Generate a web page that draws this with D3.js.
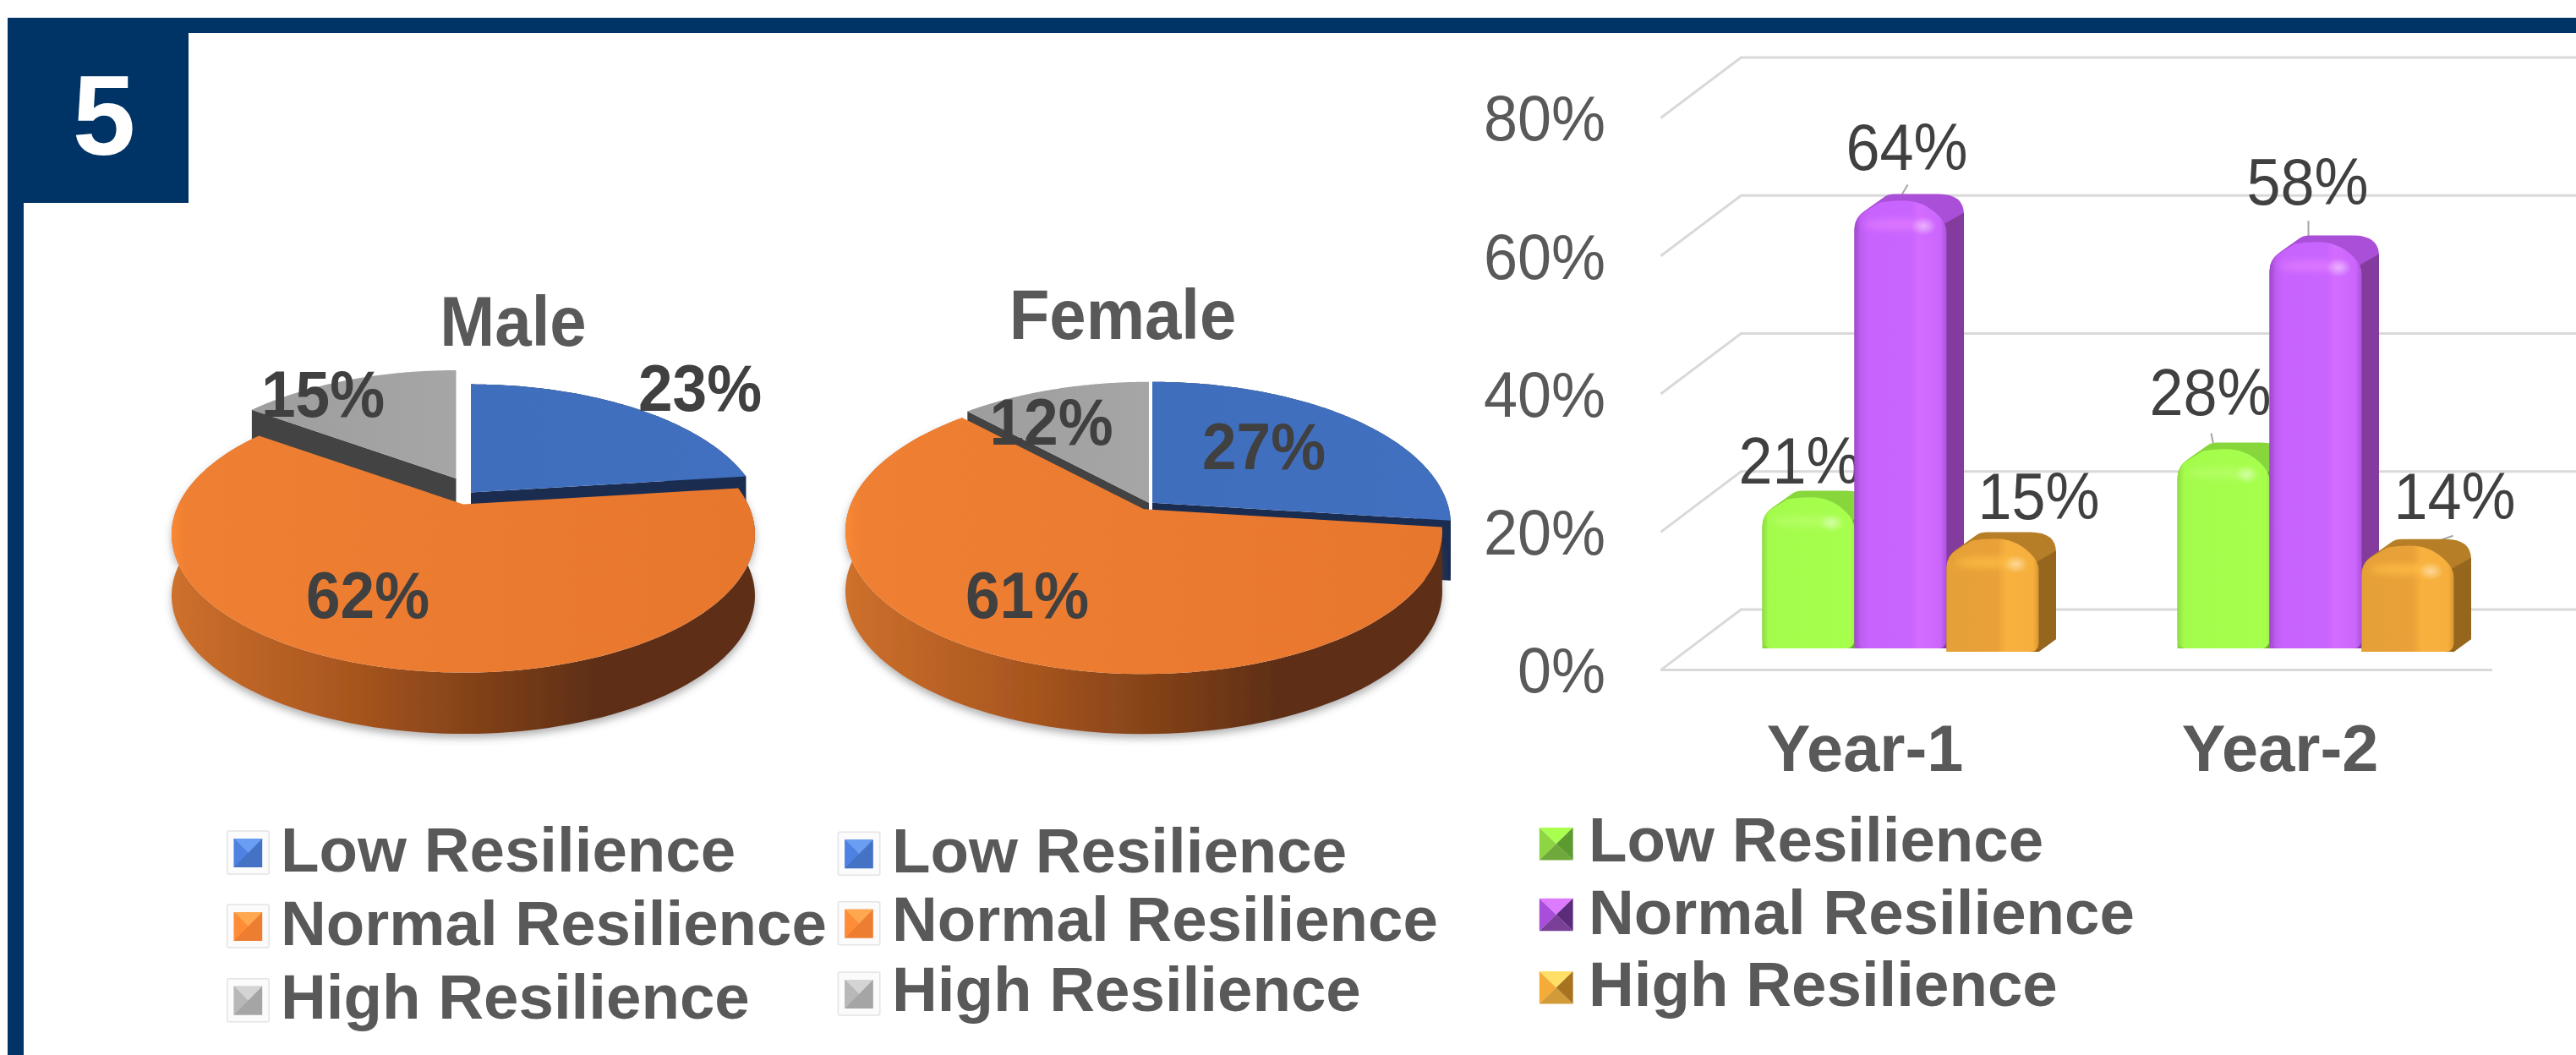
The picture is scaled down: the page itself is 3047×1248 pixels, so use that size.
<!DOCTYPE html>
<html><head><meta charset="utf-8">
<script src="https://cdn.jsdelivr.net/npm/d3@7/dist/d3.min.js"></script>
<style>html,body{margin:0;padding:0;background:#fff}svg{display:block}text{font-family:"Liberation Sans",Arial,sans-serif}</style>
</head><body><svg id="c" width="3047" height="1248"></svg>
<script>
// ---- data ----
const pieCategories = ["Low Resilience", "Normal Resilience", "High Resilience"];
const maleValues = [23, 62, 15];
const femaleValues = [27, 61, 12];
const years = ["Year-1", "Year-2"];
const lowValues = [21, 28];
const normalValues = [64, 58];
const highValues = [15, 14];
const yTicks = [0, 20, 40, 60, 80];

// ---- layout ----
const svg = d3.select("#c");
const defs = svg.append("defs");
const NAVY = "#003466", DARK = "#404040", MID = "#595959";

function lg(id, stops, x2 = 1, y2 = 0) {
  const g = defs.append("linearGradient").attr("id", id).attr("x1", 0).attr("y1", 0).attr("x2", x2).attr("y2", y2);
  stops.forEach(s => g.append("stop").attr("offset", s[0]).attr("stop-color", s[1]));
}
lg("wallO", [[0, "#cd702c"], [.3, "#a9561f"], [.72, "#5f2f12"], [1, "#5f2f12"]]);
lg("topO", [[0, "#f98835"], [.025, "#ef7f32"], [.5, "#eb7b30"], [1, "#e8772e"]]);
lg("topB", [[0, "#3f6ebd"], [1, "#4270c0"]]);
lg("topG", [[0, "#9d9d9d"], [1, "#a6a6a6"]]);
lg("fP", [[0, "#9c48cb"], [.07, "#bf5ef2"], [.15, "#c863fd"], [.62, "#c965ff"], [.7, "#d36cff"], [.93, "#cb66fd"], [1, "#ab52da"]]);
lg("fG", [[0, "#8fdb42"], [.07, "#a3fb4b"], [.95, "#a7ff4d"], [1, "#a0f548"]]);
lg("fH", [[0, "#e5a038"], [.55, "#e9a138"], [.65, "#f8b13e"], [.94, "#f6af3d"], [1, "#d9952f"]]);
const soft = defs.append("filter").attr("id", "soft").attr("x", "-10%").attr("y", "-10%").attr("width", "120%").attr("height", "130%");
soft.append("feDropShadow").attr("dx", 0).attr("dy", 5).attr("stdDeviation", 5).attr("flood-color", "#555").attr("flood-opacity", .45);
defs.append("filter").attr("id", "blur4").attr("x", "-30%").attr("y", "-100%").attr("width", "160%").attr("height", "300%")
  .append("feGaussianBlur").attr("stdDeviation", 4);
const glow = defs.append("radialGradient").attr("id", "glow");
glow.append("stop").attr("offset", 0).attr("stop-color", "#fff").attr("stop-opacity", .45);
glow.append("stop").attr("offset", 1).attr("stop-color", "#fff").attr("stop-opacity", 0);

function label(g, x, y, txt, size, weight, fill, anchor = "middle", sy = 1) {
  return g.append("text").attr("transform", `translate(${x},${y}) scale(1,${sy})`)
    .attr("text-anchor", anchor).attr("font-size", size).attr("font-weight", weight).attr("fill", fill).text(txt);
}

// frame
const frame = svg.append("g").attr("fill", NAVY);
frame.append("rect").attr("x", 9).attr("y", 21).attr("width", 3038).attr("height", 18);
frame.append("rect").attr("x", 9).attr("y", 21).attr("width", 19).attr("height", 1227);
frame.append("rect").attr("x", 9).attr("y", 21).attr("width", 214).attr("height", 219);
label(svg, 123, 183, "5", 134, "bold", "#fff");

// ---- pies ----
const pieGen = d3.pie().sort(null).value(d => d).startAngle(0).endAngle(2 * Math.PI);
const lineGen = d3.line();

function drawPie(cfg) {
  const g = svg.append("g");
  const k = (cfg.back - cfg.front) / (cfg.back + cfg.front);
  const A = cfg.front * (1 + k);
  const B = cfg.rx * Math.sqrt(1 - k * k);
  const P = (t, off, dz = 0) => {
    const u = Math.sin(t), v = -Math.cos(t), w = 1 + k * v;
    return [cfg.cx + off[0] + B * u / w, cfg.cy + off[1] + A * v / w + dz];
  };
  const arcPts = (a, b, off, dz = 0) => d3.range(0, 121).map(i => P(a + (b - a) * i / 120, off, dz));
  const arcs = pieGen(cfg.values);
  const topPath = (a, off) => lineGen([[cfg.cx + off[0], cfg.cy + off[1]], ...arcPts(a.startAngle, a.endAngle, off)]) + "Z";
  const wallRadial = (t, off) => {
    const c = [cfg.cx + off[0], cfg.cy + off[1]], e = P(t, off);
    return lineGen([c, e, [e[0], e[1] + cfg.depth], [c[0], c[1] + cfg.depth]]) + "Z";
  };
  const wallOuter = (a, off) => {
    const t = arcPts(a.startAngle, a.endAngle, off), bt = arcPts(a.startAngle, a.endAngle, off, cfg.depth).reverse();
    return lineGen([...t, ...bt]) + "Z";
  };
  // back to front: high, low, normal
  const [low, normal, high] = arcs;
  g.append("path").attr("d", wallRadial(high.startAngle, cfg.offHigh)).attr("fill", "#434343");
  g.append("path").attr("d", topPath(high, cfg.offHigh)).attr("fill", "url(#topG)");
  g.append("path").attr("d", wallOuter(low, cfg.offLow)).attr("fill", "#1a2c50");
  g.append("path").attr("d", wallRadial(low.endAngle, cfg.offLow)).attr("fill", "#1a2c50");
  g.append("path").attr("d", topPath(low, cfg.offLow)).attr("fill", "url(#topB)");
  g.append("path").attr("d", wallOuter(normal, [0, 0])).attr("fill", "url(#wallO)").attr("filter", "url(#soft)");
  g.append("path").attr("d", topPath(normal, [0, 0])).attr("fill", "url(#topO)");
  label(g, cfg.title[1], cfg.title[2], cfg.title[0], 78, "bold", MID, "middle", 1.08);
  cfg.values.forEach((v, i) => label(g, cfg.labels[i][0], cfg.labels[i][1], v + "%", 73, "bold", DARK, "middle", 1.06));
}

drawPie({
  values: maleValues, cx: 548, cy: 596.6, rx: 345, front: 199, back: 128, depth: 72.5,
  offLow: [9, -14], offHigh: [-8.5, -30.6],
  title: ["Male", 607, 409], labels: [[828, 486], [435, 730.5], [382, 493.3]]
});
drawPie({
  values: femaleValues, cx: 1353, cy: 602.3, rx: 353, front: 195, back: 143, depth: 71,
  offLow: [10, -7.6], offHigh: [6, -7.6],
  title: ["Female", 1328, 401.4], labels: [[1495, 554.5], [1215, 730.5], [1243.5, 525.8]]
});

// legend of the pies
const pieColors = [["#4472c4", "#6b9df3", "#4d82e3"], ["#ed7d31", "#ffa850", "#ff8c37"], ["#a5a5a5", "#d4d4d4", "#b8b8b8"]];
const barColors = [["#a7ff4d", "#a9ff50", "#8dd542", "#6fa93b", "#5d9a2f"], ["#c765fb", "#dd7bff", "#a94ddb", "#7a3f96", "#5c2b7a"], ["#f0aa3a", "#ffdf66", "#f5ab38", "#d29a38", "#a87320"]];

function pieMarker(g, x, y, w, h, c, box) {
  if (box) g.append("rect").attr("x", x - 8).attr("y", y - 9).attr("width", w + 16).attr("height", h + 17).attr("rx", 2)
    .attr("fill", "#fbfbfb").attr("stroke", "#e4e4e4").attr("stroke-width", 1.5);
  g.append("rect").attr("x", x).attr("y", y).attr("width", w).attr("height", h).attr("fill", c[0]);
  g.append("path").attr("d", lineGen([[x, y], [x + w, y], [x + w / 2, y + h / 2]]) + "Z").attr("fill", c[1]);
  g.append("path").attr("d", lineGen([[x, y], [x + w / 2, y + h / 2], [x, y + h]]) + "Z").attr("fill", c[2]);
}
function barMarker(g, x, y, w, h, c) {
  const m = [x + w / 2, y + h / 2];
  const tri = (a, b, f) => g.append("path").attr("d", lineGen([a, b, m]) + "Z").attr("fill", f);
  tri([x, y], [x + w, y], c[1]);
  tri([x, y], [x, y + h], c[2]);
  tri([x, y + h], [x + w, y + h], c[3]);
  tri([x + w, y], [x + w, y + h], c[4]);
}
const leg1 = svg.append("g");
[[992, 1031], [1079, 1117.7], [1166.7, 1205]].forEach((r, i) => {
  pieMarker(leg1, 276.7, r[0], 33.5, 34, pieColors[i], true);
  label(leg1, 332, r[1], pieCategories[i], 74.5, "bold", MID, "start");
});
const leg2 = svg.append("g");
[[993.3, 1031.7], [1075.7, 1113.3], [1159, 1195.7]].forEach((r, i) => {
  pieMarker(leg2, 999.3, r[0], 33.5, 34, pieColors[i], true);
  label(leg2, 1055, r[1], pieCategories[i], 74.5, "bold", MID, "start");
});
const leg3 = svg.append("g");
[[979, 1019.3], [1062.7, 1105], [1149, 1190]].forEach((r, i) => {
  barMarker(leg3, 1820.8, r[0], 39.8, 38.5, barColors[i]);
  label(leg3, 1879, r[1], pieCategories[i], 74.5, "bold", MID, "start");
});

// ---- 3D bars ----
const bar = svg.append("g");
const yFront = d3.scaleLinear().domain([0, 80]).range([792.6, 139.5]);
const yBack = d3.scaleLinear().domain([0, 80]).range([721, 68]);
const yBar = d3.scaleLinear().domain([0, 80]).range([767, 114]);
const x0 = d3.scaleBand().domain(years).range([2002.5, 2984.5]).paddingInner(.334).paddingOuter(.167);
const seriesNames = ["low", "normal", "high"];
const x1 = d3.scaleBand().domain(seriesNames).range([0, x0.bandwidth()]);
const backLeft = 2059.5, frontLeft = 1964.4, gridRight = 3047, floorRight = 2948;

const gridG = bar.append("g").attr("stroke", "#d9d9d9").attr("stroke-width", 3).attr("fill", "none");
yTicks.forEach(t => {
  gridG.append("path").attr("d", lineGen([[frontLeft, yFront(t)], [backLeft, yBack(t)], [gridRight, yBack(t)]]));
});
gridG.append("path").attr("d", lineGen([[frontLeft, yFront(0)], [floorRight, yFront(0)]]));

const axisG = bar.append("g").attr("transform", "translate(1899,0)")
  .call(d3.axisLeft(yFront).tickValues(yTicks).tickSize(0).tickPadding(0).tickFormat(d => d + "%"));
axisG.select(".domain").remove();
axisG.selectAll("text").attr("font-size", 72).attr("fill", MID).attr("font-family", '"Liberation Sans",Arial,sans-serif')
  .attr("dy", 25).attr("transform", "scale(1,1.05)");

years.forEach(y => label(bar, x0(y) + x0.bandwidth() / 2 - 42, 912.3, y, 77.5, "bold", MID));

const seriesStyle = {
  low: { values: lowValues, front: "url(#fG)", top: "#86d63c", side: "#6ea82f", band: "#b8ff6a", baseDrop: 0,
    lab: [[44, -8.6], [39, -32]], lead: [null, [40, -11, 46, 19]] },
  normal: { values: normalValues, front: "url(#fP)", top: "#a94fd8", side: "#833b9e", band: "#e27bff", baseDrop: 0,
    lab: [[62, -29], [45, -37]], lead: [[63, -11, 46, 18], [46, -17.5, 46, 19]] },
  high: { values: highValues, front: "url(#fH)", top: "#b67e27", side: "#96661f", band: "#ffbe45", baseDrop: 4,
    lab: [[109, -15.6], [110, -23.7]], lead: [[109, 3, 45, 19], [108, -4, 46, 18]] }
};
const D = 20.5, DY = 15;
const leaders = bar.append("g");
seriesNames.forEach(name => {
  const st = seriesStyle[name];
  st.values.forEach((v, i) => {
    const L = x0(years[i]) + x1(name), w = x1.bandwidth(), R = L + w;
    const base = yBar(0) + st.baseDrop, T = yBar(v) - DY;
    const p = d3.path();
    p.moveTo(L, T + 42); p.quadraticCurveTo(L, T + 28, L + 12, T + 20); p.lineTo(L + 36, T + 3);
    p.quadraticCurveTo(L + 40, T, L + 48, T); p.lineTo(R - 10, T); p.quadraticCurveTo(R + D, T, R + D, T + 24);
    p.lineTo(R + D, base - DY); p.lineTo(R, base); p.lineTo(L, base); p.closePath();
    bar.append("path").attr("d", p.toString()).attr("fill", st.top);
    const s = d3.path();
    s.moveTo(R + D, T + 22); s.lineTo(R - 4, T + 36); s.lineTo(R - 4, base); s.lineTo(R, base);
    s.lineTo(R + D, base - DY); s.closePath();
    bar.append("path").attr("d", s.toString()).attr("fill", st.side);
    const f = d3.path();
    f.moveTo(L, base - 12); f.lineTo(L, T + 42); f.quadraticCurveTo(L, T + 28, L + 12, T + 21); f.lineTo(L + 30, T + 10);
    f.quadraticCurveTo(L + 50, T + 7, R - 45, T + 8); f.quadraticCurveTo(R - 25, T + 10, R - 10, T + 25);
    f.quadraticCurveTo(R, T + 35, R, T + 45); f.lineTo(R, base - 10); f.quadraticCurveTo(R, base, R - 12, base);
    if (name === "high") { f.lineTo(L, base); f.closePath(); }
    else { f.lineTo(L + 12, base); f.quadraticCurveTo(L, base, L, base - 12); f.closePath(); }
    bar.append("path").attr("d", f.toString()).attr("fill", st.front);
    bar.append("ellipse").attr("cx", L + w / 2 - 4).attr("cy", T + 36).attr("rx", w / 2 - 14).attr("ry", 6)
      .attr("fill", st.band).attr("opacity", .8).attr("filter", "url(#blur4)");
    bar.append("ellipse").attr("cx", R - 27).attr("cy", T + 38).attr("rx", 15).attr("ry", 11).attr("fill", "url(#glow)");
    const ld = st.lead[i];
    if (ld) leaders.append("line").attr("x1", L + ld[0]).attr("y1", T + ld[1]).attr("x2", L + ld[2]).attr("y2", T + ld[3])
      .attr("stroke", "#a6a6a6").attr("stroke-width", 2);
    label(leaders, L + st.lab[i][0], T + st.lab[i][1], v + "%", 72, "normal", DARK, "middle", 1.08);
  });
});
</script></body></html>
